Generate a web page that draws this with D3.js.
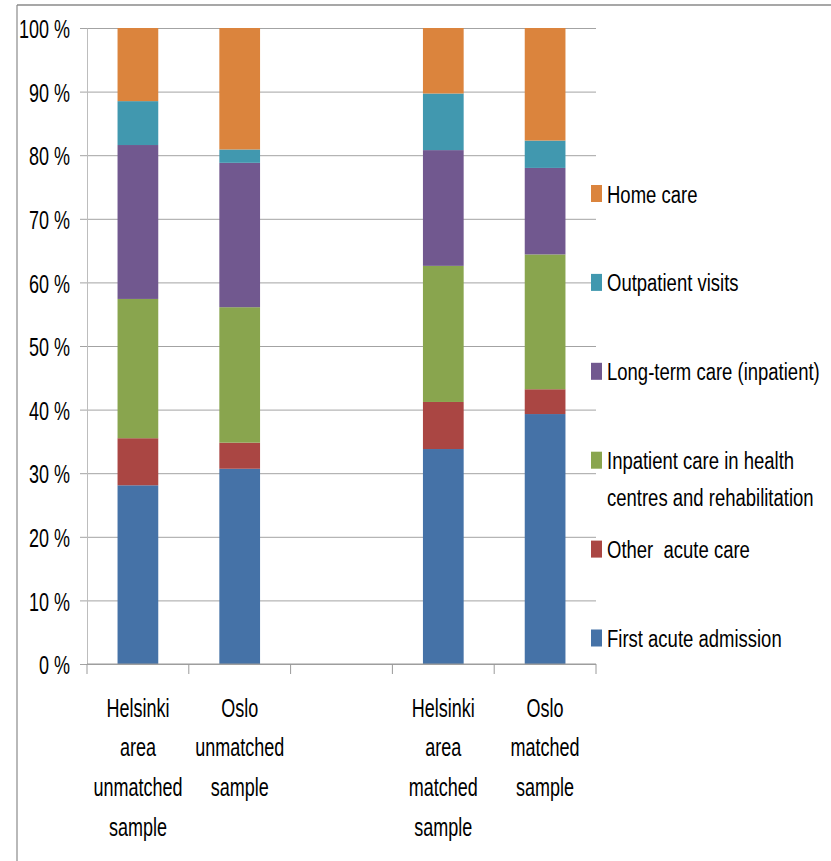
<!DOCTYPE html>
<html>
<head>
<meta charset="utf-8">
<script src="https://cdn.jsdelivr.net/npm/d3@7"></script>
<style>
  html, body { margin: 0; padding: 0; background: #fff; }
  svg { display: block; }
  text { font-family: "Liberation Sans", Arial, sans-serif; fill: #000; }
</style>
</head>
<body>
<svg id="chart" width="831" height="861"></svg>
<script>
// Category labels, one array of wrapped lines per slot (empty slot = spacer)
const categoryLines = [
  ["Helsinki", "area", "unmatched", "sample"],
  ["Oslo", "unmatched", "sample"],
  [],
  ["Helsinki", "area", "matched", "sample"],
  ["Oslo", "matched", "sample"]
];
const categories = categoryLines.map((l, i) => l.length ? l.join(" ") : "gap" + i);

// Series, listed bottom to top of each stack
const seriesNames = [
  "First acute admission",
  "Other  acute care",
  "Inpatient care in health centres and rehabilitation",
  "Long-term care (inpatient)",
  "Outpatient visits",
  "Home care"
];
const legendLines = [
  ["First acute admission"],
  ["Other  acute care"],
  ["Inpatient care in health", "centres and rehabilitation"],
  ["Long-term care (inpatient)"],
  ["Outpatient visits"],
  ["Home care"]
];
const seriesColors = ["#4572A7", "#AA4643", "#89A54E", "#71588F", "#4198AF", "#DB843D"];

// Percent shares per category (null = no bar)
const firstAcute  = [28.1, 30.7, null, 33.8, 39.3];
const otherAcute  = [7.4, 4.1, null, 7.4, 3.9];
const inpatientHC = [21.9, 21.3, null, 21.4, 21.2];
const longTerm    = [24.2, 22.7, null, 18.2, 13.6];
const outpatient  = [6.9, 2.1, null, 8.9, 4.3];
const homeCare    = [11.5, 19.1, null, 10.3, 17.7];
const seriesValues = [firstAcute, otherAcute, inpatientHC, longTerm, outpatient, homeCare];

const yTicks = [0, 10, 20, 30, 40, 50, 60, 70, 80, 90, 100];

const svg = d3.select("#chart");
const plot = { left: 87, right: 596, top: 28, bottom: 664 };

// Outer frame lines
svg.append("line").attr("x1", 17).attr("x2", 831).attr("y1", 5).attr("y2", 5)
  .attr("stroke", "#8a8a8a").attr("stroke-width", 1.6);
svg.append("line").attr("x1", 17).attr("x2", 17).attr("y1", 5).attr("y2", 861)
  .attr("stroke", "#8a8a8a").attr("stroke-width", 1.2);

const x = d3.scaleBand().domain(categories)
  .range([plot.left, plot.right]).paddingInner(0.6).paddingOuter(0.3);
const y = d3.scaleLinear().domain([0, 100]).range([plot.bottom, plot.top]);

// Gridlines
svg.append("g")
  .attr("transform", `translate(${plot.left},0)`)
  .call(d3.axisLeft(y).tickValues(yTicks).tickSize(-(plot.right - plot.left)).tickFormat(""))
  .call(g => g.select(".domain").remove())
  .call(g => g.selectAll(".tick line").attr("stroke", "#a3a3a3").attr("stroke-width", 1));

// Stacked bars
const rows = categories.map((c, i) => {
  const r = { cat: c };
  seriesNames.forEach((s, k) => { r[s] = seriesValues[k][i] ?? 0; });
  return r;
});
const stacked = d3.stack().keys(seriesNames)(rows);

svg.append("g").selectAll("g")
  .data(stacked)
  .join("g")
  .attr("fill", (d, k) => seriesColors[k])
  .selectAll("rect")
  .data(d => d.filter(p => p[1] - p[0] > 0))
  .join("rect")
  .attr("x", p => x(p.data.cat))
  .attr("width", x.bandwidth())
  .attr("y", p => y(p[1]))
  .attr("height", p => y(p[0]) - y(p[1]));

// Y axis
const yAxis = svg.append("g")
  .attr("transform", `translate(${plot.left},0)`)
  .call(d3.axisLeft(y).tickValues(yTicks).tickSize(7).tickSizeOuter(0).tickPadding(10)
    .tickFormat(d => d + " %"));
yAxis.select(".domain").attr("stroke", "#bdbdbd");
yAxis.selectAll(".tick line").attr("stroke", "#a3a3a3");
yAxis.selectAll(".tick text")
  .attr("font-size", 18)
  .attr("dy", "0.37em")
  .attr("transform", "scale(1,1.45)")
  .style("font-family", "'Liberation Sans', Arial, sans-serif")
  .attr("fill", "#000");

// X axis: line, slot boundary ticks and wrapped labels
const step = x.step();
const boundaries = categories.map(c => x(c) - x.paddingInner() * step / 2).concat([plot.right]);
const xAxis = svg.append("g");
xAxis.append("line")
  .attr("x1", plot.left).attr("x2", plot.right)
  .attr("y1", plot.bottom).attr("y2", plot.bottom)
  .attr("stroke", "#9a9a9a");
xAxis.selectAll("line.bound")
  .data(boundaries)
  .join("line")
  .attr("class", "bound")
  .attr("x1", d => d).attr("x2", d => d)
  .attr("y1", plot.bottom).attr("y2", plot.bottom + 10)
  .attr("stroke", "#9a9a9a");

const labelBase = 716.7, labelStep = 39.7;
categories.forEach((c, i) => {
  const cx = x(c) + x.bandwidth() / 2;
  categoryLines[i].forEach((line, j) => {
    svg.append("text")
      .attr("transform", `translate(${cx},${labelBase + j * labelStep}) scale(1,1.42)`)
      .attr("text-anchor", "middle")
      .attr("font-size", 18)
      .text(line);
  });
});

// Legend, top entry = top of stack
const legendOrder = d3.range(seriesNames.length).reverse();
const ly = d3.scalePoint().domain(legendOrder.map(k => seriesNames[k])).range([202.5, 647]);
const legend = svg.append("g");
legendOrder.forEach(k => {
  const base = ly(seriesNames[k]);
  legend.append("rect")
    .attr("x", 591).attr("y", base - 17.5)
    .attr("width", 11).attr("height", 17)
    .attr("fill", seriesColors[k]);
  legendLines[k].forEach((line, j) => {
    legend.append("text")
      .attr("transform", `translate(607,${base + j * 36.5}) scale(1,1.34)`)
      .attr("font-size", 18.5)
      .style("white-space", "pre")
      .text(line);
  });
});
</script>
</body>
</html>
